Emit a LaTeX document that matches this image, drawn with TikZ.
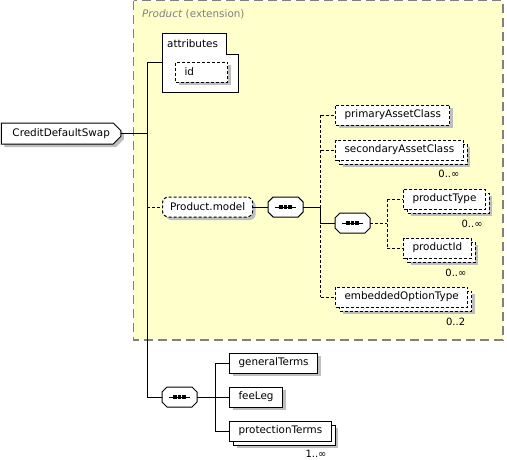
\documentclass[tikz,border=0pt]{standalone}
\usepackage{fontspec}
\setmainfont{DejaVu Sans}
\usetikzlibrary{shapes.misc,shadows,positioning,calc}
\definecolor{extyellow}{RGB}{255,255,204}
\definecolor{extgray}{RGB}{128,128,128}
\definecolor{shadegray}{RGB}{190,190,190}
\newcommand{\seqmark}[1]{%
  \foreach \sh/\opt in {3pt/{fill=shadegray}, 0pt/{draw, fill=white, line width=1pt}}
    \path[shift={(\sh,-\sh)}, style/.expand once=\opt]
      ($(#1.north west)+(5,0)$) -- ($(#1.north east)+(-5,0)$) -- ($(#1.north east)+(0,5)$)
      -- ($(#1.south east)+(0,-5)$) -- ($(#1.south east)+(-5,0)$) -- ($(#1.south west)+(5,0)$)
      -- ($(#1.south west)+(0,-5)$) -- ($(#1.north west)+(0,5)$) -- cycle;
  \draw[line width=1pt] ([xshift=7pt]#1.west) -- ([xshift=-7pt]#1.east);
  \foreach \dx in {-4.5,0,4.5}
    \fill ([xshift=\dx pt]#1.center) +(-1.7,-1.7) rectangle +(1.7,1.7);}

\begin{document}
\begin{tikzpicture}[x=1pt, y=-1pt,
      elem/.style={rectangle, draw, fill=white, line width=1pt, font=\fontsize{10.4}{12}\selectfont, inner xsep=9pt, inner ysep=0pt, minimum height=20pt, anchor=west},
      opt/.style={dash pattern=on 3pt off 2pt},
      single/.style={drop shadow={shadow xshift=3pt, shadow yshift=-3pt, fill=shadegray, opacity=1}},
      multi/.style={drop shadow={shadow xshift=7pt, shadow yshift=-7pt, fill=shadegray, opacity=1}, general shadow={shadow xshift=4pt, shadow yshift=-4pt, draw, fill=white}},
      comp/.style={rectangle, minimum width=35pt, minimum height=20pt, inner sep=0pt, outer sep=0pt},
      mult/.style={font=\fontsize{10}{12}\selectfont, inner sep=0pt, anchor=east},
      conn/.style={line width=1pt},
      optconn/.style={conn, dash pattern=on 3pt off 2pt}
    ]
      \useasboundingbox[fill=white] (0,0) rectangle (507,459);
      \draw[extgray, line width=1.3pt, dash pattern=on 9pt off 5pt, fill=extyellow] (133.5,0.7) rectangle (503,340);
      \node[anchor=west, text=extgray, font=\fontsize{10.4}{12}\selectfont, inner sep=0pt] (exttitle) at (142,14) {\textit{Product} (extension)};

      \draw[line width=1pt, fill=white] (162,33) -- (226,33) -- (226,54) -- (238,54) -- (238,92) -- (162,92) -- cycle;
      \node[anchor=west, font=\fontsize{10.4}{12}\selectfont, inner sep=0pt] (attr) at (167,44) {attributes};
      \coordinate (attrin) at (162,62);
      \node[elem, opt, single, text width=34pt, align=left] (id) at (175,72) {id};

      \node[elem, chamfered rectangle, chamfered rectangle corners={north east,south east}, chamfered rectangle xsep=4pt, inner xsep=7pt, minimum width=115pt, minimum height=21pt, single] (cds) at (1,133.5) {CreditDefaultSwap};
      \coordinate (trunk) at (147,62);

      \node[elem, opt, single, rounded corners=6pt, inner xsep=7.5pt] (pm) at (162,207) {Product.model};
      \node[comp, right=15pt of pm] (seq1) {};
      \coordinate (bus1) at (320.5,207);

      \node[elem, opt, single] (pac) at (335,115) {primaryAssetClass};
      \node[elem, opt, multi] (sac) at (335,150) {secondaryAssetClass};
      \node[comp] (seq2) at (352.5,223) {};
      \coordinate (bus2) at (387,223);
      \node[elem, opt, multi] (pt) at (403,199) {productType};
      \node[elem, opt, multi] (pid) at (403,248) {productId};
      \node[elem, opt, multi] (eot) at (335,297) {embeddedOptionType};

      \node[mult] (sacm) at ([xshift=-4pt,yshift=-13pt]sac.south east) {0..∞};
      \node[mult] (ptm) at ([xshift=-3pt,yshift=-14pt]pt.south east) {0..∞};
      \node[mult] (pidm) at ([xshift=-5pt,yshift=-14pt]pid.south east) {0..∞};
      \node[mult] (eotm) at ([xshift=-3pt,yshift=-14pt]eot.south east) {0..2};

      \node[comp] (seq3) at (179.5,397) {};
      \coordinate (bus3) at (215,397);
      \node[elem, single] (gt) at (229,363) {generalTerms};
      \node[elem, single] (fl) at (229,397) {feeLeg};
      \node[elem, multi] (prt) at (229,431) {protectionTerms};
      \node[mult] (prtm) at ([xshift=-5pt,yshift=-12pt]prt.south east) {1..∞};

      \seqmark{seq1}
      \seqmark{seq2}
      \seqmark{seq3}

      \draw[conn] (cds.east) -- (cds.east -| trunk);
      \draw[conn] (trunk) -- (seq3.west -| trunk) -- (seq3.west);
      \draw[conn] (trunk) -- (attrin);
      \draw[optconn] (pm.west -| trunk) -- (pm.west);
      \draw[conn] (pm) -- (seq1);
      \draw[conn] (seq1) -- (seq1 -| bus1);
      \draw[optconn] (pac.west -| bus1) -- (eot.west -| bus1);
      \draw[conn] (seq1 -| bus1) -- (seq2.west -| bus1) -- (seq2.west);
      \foreach \n in {pac,sac,eot}
        \draw[optconn] (\n.west -| bus1) -- (\n.west);
      \draw[optconn] (seq2) -- (seq2 -| bus2);
      \draw[optconn] (pt.west -| bus2) -- (pid.west -| bus2);
      \foreach \n in {pt,pid}
        \draw[optconn] (\n.west -| bus2) -- (\n.west);
      \draw[conn] (seq3) -- (seq3 -| bus3);
      \draw[conn] (gt.west -| bus3) -- (prt.west -| bus3);
      \foreach \n in {gt,fl,prt}
        \draw[conn] (\n.west -| bus3) -- (\n.west);
    \end{tikzpicture}
\end{document}
